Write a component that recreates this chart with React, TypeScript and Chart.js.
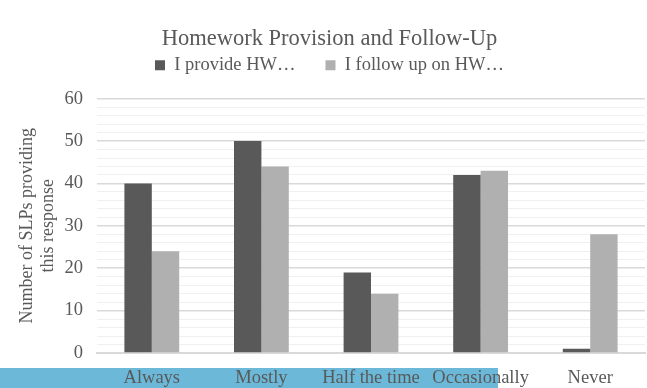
import React, { useEffect, useRef } from "react";
import { Chart, registerables } from "chart.js";

Chart.register(...registerables);

const categories = ["Always", "Mostly", "Half the time", "Occasionally", "Never"];
const provideHW = [40, 50, 19, 42, 1];
const followUpHW = [24, 44, 14, 43, 28];
const seriesNames = ["I provide HW…", "I follow up on HW…"];
const chartTitle = "Homework Provision and Follow-Up";
const yTitle = ["Number of SLPs providing", "this response"];

const FONT = "'Liberation Serif', 'Times New Roman', serif";
const TEXT = "#595959";

export default function App() {
  const ref = useRef<HTMLCanvasElement>(null);
  useEffect(() => {
    document.body.style.margin = "0";
    const chart = new Chart(ref.current!, {
      type: "bar",
      data: {
        labels: categories,
        datasets: [
          { label: seriesNames[0], data: provideHW, backgroundColor: "#595959", categoryPercentage: 0.5, barPercentage: 1.0 },
          { label: seriesNames[1], data: followUpHW, backgroundColor: "#b0b0b0", categoryPercentage: 0.5, barPercentage: 1.0 },
        ],
      },
      options: {
        responsive: false,
        animation: false,
        layout: { padding: { left: 14, right: 2, top: 6, bottom: 0 } },
        plugins: {
          title: {
            display: true,
            text: chartTitle,
            color: TEXT,
            font: { family: FONT, size: 22.5, weight: "normal" },
            padding: { top: 20, bottom: -27 },
          },
          subtitle: {
            display: true,
            text: "",
            weight: 500,
            font: { size: 1 },
            padding: { top: 13, bottom: 0 },
          } as any,
          legend: {
            position: "top",
            labels: {
              color: TEXT,
              font: { family: FONT, size: 18.5 },
              boxWidth: 10,
              boxHeight: 10,
              padding: 30,
            },
          },
          tooltip: { enabled: false },
        },
        scales: {
          x: {
            grid: { display: false, drawTicks: false },
            border: { color: "#d9d9d9", width: 2 },
            ticks: { color: TEXT, font: { family: FONT, size: 18.5 }, maxRotation: 0, autoSkip: false, padding: 14 },
            afterFit: (s: any) => { s.height = 35; },
          },
          y: {
            min: 0,
            max: 60,
            border: { display: false },
            grid: {
              color: (ctx: any) => (ctx.tick && ctx.tick.value % 10 === 0 ? "#d9d9d9" : "#f0f0f0"),
              lineWidth: (ctx: any) => (ctx.tick && ctx.tick.value % 10 === 0 ? 1.5 : 1),
              drawTicks: false,
            },
            ticks: {
              stepSize: 2,
              autoSkip: false,
              color: TEXT,
              font: { family: FONT, size: 18.5 },
              padding: 14,
              callback: (v: any) => (Number(v) % 10 === 0 ? String(v) : ""),
            },
            title: {
              display: true,
              text: yTitle,
              color: TEXT,
              font: { family: FONT, size: 18, weight: "normal", lineHeight: 1.2 },
              padding: { top: 2, bottom: 4 },
            },
            afterFit: (s: any) => { s.width = 83; },
          },
        },
      },
    });
    return () => chart.destroy();
  }, []);
  return (
    <div style={{ position: "absolute", left: 0, top: 0, width: 647, height: 388, background: "#fff" }}>
      <div style={{ position: "absolute", left: 0, top: 368, width: 498, height: 20, background: "#6cb8d8" }} />
      <canvas ref={ref} width={647} height={388} style={{ position: "absolute", left: 0, top: 0 }} />
    </div>
  );
}
